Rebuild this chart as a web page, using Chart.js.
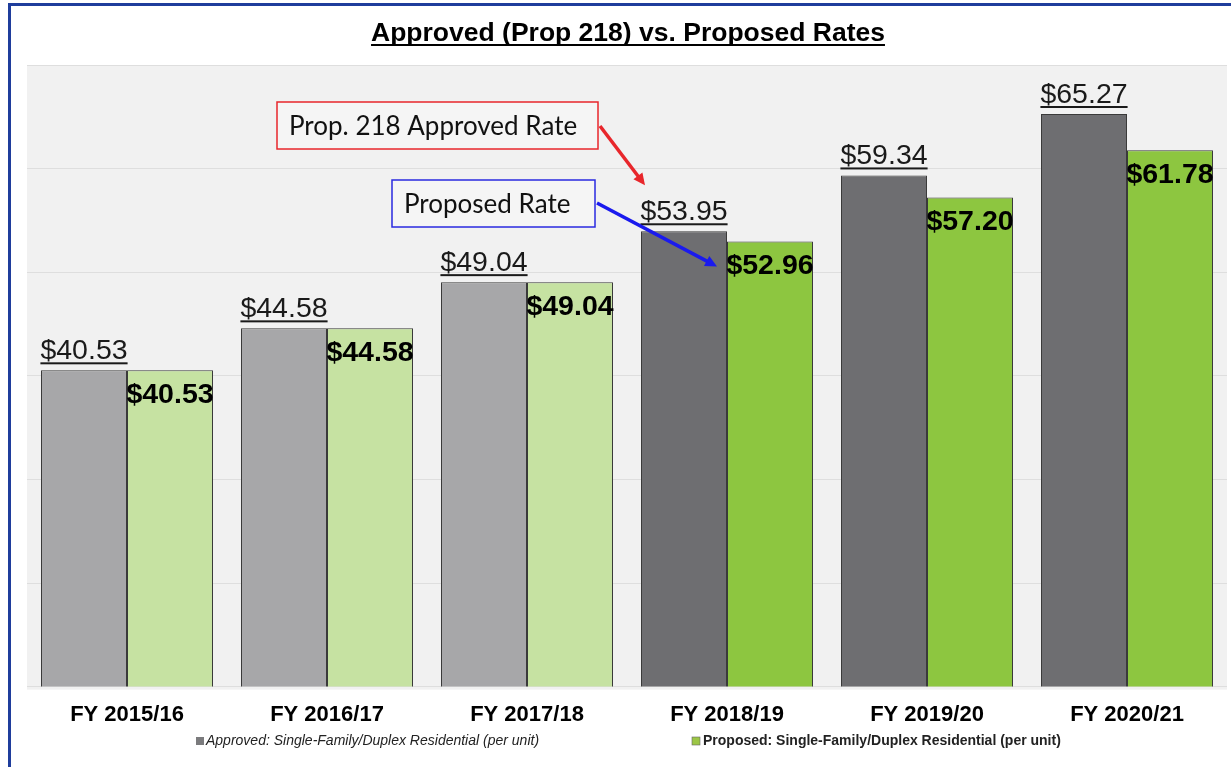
<!DOCTYPE html>
<html>
<head>
<meta charset="utf-8">
<script src="https://cdn.jsdelivr.net/npm/chart.js@4.4.1/dist/chart.umd.min.js"></script>
<style>
  html, body { margin: 0; padding: 0; background: #fff; overflow: hidden; }
  #frame { position: absolute; left: 8px; top: 3px; width: 1240px; height: 770px; border: 3px solid #1f3d9c; box-sizing: border-box; }
  #wrap { position: absolute; left: 0; top: 0; width: 1231px; height: 767px; }
</style>
</head>
<body>
<div id="frame"></div>
<div id="wrap"><canvas id="c"></canvas></div>
<script>
// ----- data -----
const years = ["FY 2015/16", "FY 2016/17", "FY 2017/18", "FY 2018/19", "FY 2019/20", "FY 2020/21"];
const approved = [40.53, 44.58, 49.04, 53.95, 59.34, 65.27];
const proposed = [40.53, 44.58, 49.04, 52.96, 57.20, 61.78];
const approvedColors = ["#a7a7a9", "#a7a7a9", "#a7a7a9", "#6e6e71", "#6e6e71", "#6e6e71"];
const proposedColors = ["#c6e2a2", "#c6e2a2", "#c6e2a2", "#8dc640", "#8dc640", "#8dc640"];
const legendLabels = ["Approved: Single-Family/Duplex Residential (per unit)", "Proposed: Single-Family/Duplex Residential (per unit)"];
const titleText = "Approved (Prop 218) vs. Proposed Rates";

const money = (v) => "$" + v.toFixed(2);

// ----- helpers -----
function underlineText(ctx, text, x, y, align, lw) {
  ctx.textAlign = align; ctx.fillText(text, x, y);
  const wdt = ctx.measureText(text).width;
  const x0 = align === "center" ? x - wdt / 2 : align === "right" ? x - wdt : x;
  ctx.fillRect(x0, y + 3, wdt, lw);
}
function arrow(ctx, x1, y1, x2, y2, color) {
  const a = Math.atan2(y2 - y1, x2 - x1), h = 13;
  ctx.save();
  ctx.strokeStyle = color; ctx.fillStyle = color; ctx.lineWidth = 3.5;
  ctx.beginPath(); ctx.moveTo(x1, y1); ctx.lineTo(x2 - h * 0.8 * Math.cos(a), y2 - h * 0.8 * Math.sin(a)); ctx.stroke();
  ctx.beginPath(); ctx.moveTo(x2, y2);
  ctx.lineTo(x2 - h * Math.cos(a - 0.45), y2 - h * Math.sin(a - 0.45));
  ctx.lineTo(x2 - h * Math.cos(a + 0.45), y2 - h * Math.sin(a + 0.45));
  ctx.closePath(); ctx.fill();
  ctx.restore();
}
function callout(ctx, text, x, y, w, h, color) {
  ctx.save();
  ctx.fillStyle = "#f5f5f5"; ctx.fillRect(x, y, w, h);
  ctx.strokeStyle = color; ctx.lineWidth = 1.5; ctx.strokeRect(x, y, w, h);
  ctx.fillStyle = "#111"; ctx.font = "26px Lato, 'Open Sans', sans-serif";
  ctx.textAlign = "left"; ctx.textBaseline = "middle";
  ctx.fillText(text, x + 12, y + h / 2 + 1);
  ctx.restore();
}

const decor = {
  id: "decor",
  beforeDraw(chart) {
    const { ctx, chartArea: a } = chart;
    ctx.save();
    ctx.fillStyle = "#f1f1f1";
    ctx.fillRect(a.left, a.top, a.right - a.left, a.bottom - a.top + 3);
    ctx.restore();
  },
  afterDatasetsDraw(chart) {
    const { ctx } = chart;
    const m0 = chart.getDatasetMeta(0), m1 = chart.getDatasetMeta(1);
    ctx.save();
    ctx.fillStyle = "#1a1a1a"; ctx.textBaseline = "alphabetic";
    ctx.font = "28.5px 'Liberation Sans', Arial, sans-serif";
    m0.data.forEach((b, i) => underlineText(ctx, money(approved[i]), b.x, b.y - 11, "center", 2));
    ctx.font = "bold 28.5px 'Liberation Sans', Arial, sans-serif";
    ctx.fillStyle = "#000"; ctx.textAlign = "center"; ctx.textBaseline = "middle";
    m1.data.forEach((b, i) => ctx.fillText(money(proposed[i]), b.x, b.y + 25));
    ctx.restore();
  },
  afterDraw(chart) {
    const { ctx } = chart;
    const m0 = chart.getDatasetMeta(0), m1 = chart.getDatasetMeta(1);
    ctx.save();
    // title
    ctx.fillStyle = "#000"; ctx.textBaseline = "alphabetic";
    ctx.font = "bold 26.5px 'Liberation Sans', Arial, sans-serif";
    underlineText(ctx, titleText, 628, 41, "center", 2);
    // legend
    ctx.font = "italic 14px 'Liberation Sans', Arial, sans-serif";
    ctx.fillStyle = "#7b7b7d"; ctx.fillRect(196, 737, 8, 8);
    ctx.fillStyle = "#222"; ctx.textAlign = "left"; ctx.textBaseline = "middle";
    ctx.fillText(legendLabels[0], 206, 741);
    ctx.font = "bold 14px 'Liberation Sans', Arial, sans-serif";
    ctx.fillStyle = "#9cc645"; ctx.fillRect(692, 737, 8, 8);
    ctx.strokeStyle = "#666"; ctx.lineWidth = 0.6; ctx.strokeRect(692, 737, 8, 8);
    ctx.fillStyle = "#222"; ctx.fillText(legendLabels[1], 703, 741);
    ctx.restore();
    // callouts
    callout(ctx, "Prop. 218 Approved Rate", 277, 102, 321, 47, "#e8262b");
    callout(ctx, "Proposed Rate", 392, 180, 203, 47, "#2a2ae0");
    const g = m0.data[3], p = m1.data[3];
    arrow(ctx, 600, 126, g.x - g.width / 2 + 4, g.y - 46, "#e8262b");
    arrow(ctx, 597, 203, p.x - p.width / 2 - 10, p.y + 25, "#1a1aee");
  }
};

const ctx = document.getElementById("c").getContext("2d");
new Chart(ctx, {
  type: "bar",
  data: {
    labels: years,
    datasets: [
      { label: legendLabels[0], data: approved, backgroundColor: approvedColors, borderColor: "#3a3a3a", borderWidth: 1,
        categoryPercentage: 0.86, barPercentage: 1.0 },
      { label: legendLabels[1], data: proposed, backgroundColor: proposedColors, borderColor: "#3a3a3a", borderWidth: 1,
        categoryPercentage: 0.86, barPercentage: 1.0 }
    ]
  },
  options: {
    responsive: true, maintainAspectRatio: false, animation: false,
    layout: { padding: { left: 27, right: 4, top: 65, bottom: 32 } },
    plugins: { legend: { display: false }, title: { display: false }, tooltip: { enabled: false } },
    scales: {
      x: {
        grid: { display: false }, border: { display: false },
        ticks: { color: "#000", padding: 7, font: { family: "'Liberation Sans', Arial, sans-serif", size: 22, weight: "bold" } }
      },
      y: {
        min: 10, max: 70,
        ticks: { display: false, stepSize: 10 },
        grid: { color: "#dedede", drawTicks: false }, border: { display: false }
      }
    }
  },
  plugins: [decor]
});
</script>
</body>
</html>
